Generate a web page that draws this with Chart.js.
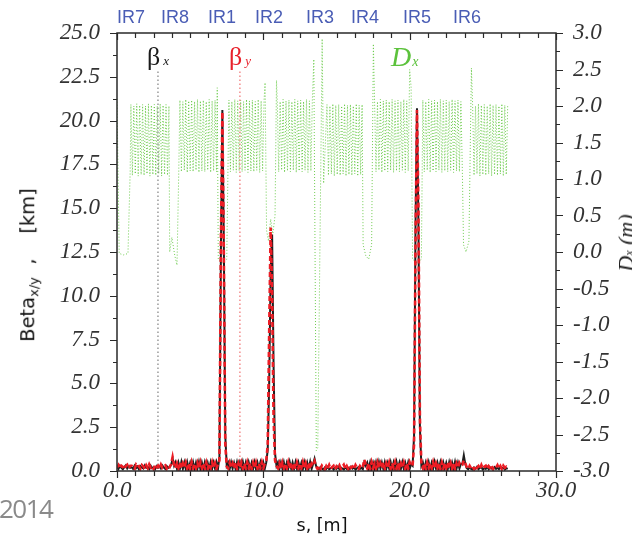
<!DOCTYPE html>
<html><head><meta charset="utf-8">
<script src="https://cdn.jsdelivr.net/npm/chart.js@4.4.1/dist/chart.umd.min.js"></script>
<style>
html,body{margin:0;padding:0;background:#fff;}
#wrap{position:relative;width:632px;height:535px;overflow:hidden;background:#fff;}
#c{position:absolute;left:0;top:0;}
.t{position:absolute;white-space:nowrap;line-height:1;}
.ir{font-family:"Liberation Sans",Arial,sans-serif;font-size:18px;color:#4a5db5;transform:translateX(-50%);top:8px;}
.greek{font-family:"Liberation Serif","Times New Roman",serif;font-size:26px;}
.sb{font-family:"Liberation Serif","Times New Roman",serif;font-style:italic;font-size:13px;margin-left:3px;}
</style></head><body>
<div id="wrap">
<canvas id="c" width="632" height="535"></canvas>
<div class="t greek" style="left:147px;top:44px;color:#1a1a1a;">β<span class="sb">x</span></div>
<div class="t greek" style="left:229px;top:44px;color:#e8202a;">β<span class="sb">y</span></div>
<div class="t" style="left:391px;top:43px;color:#5cc23c;font-family:'Liberation Serif',serif;font-style:italic;font-size:28px;">D<span style="font-size:14px;margin-left:1px;">x</span></div>
<div class="t" style="left:-1px;top:495px;color:#8a8a8a;font-family:'Open Sans',sans-serif;font-size:26px;letter-spacing:-1.5px;">2014</div>
<div class="t" style="left:322px;top:517px;transform:translateX(-50%);color:#111;font-family:'DejaVu Sans',sans-serif;font-size:17.5px;">s, [m]</div>
<div class="t" style="left:28px;top:265px;transform:translate(-50%,-50%) rotate(-90deg);color:#111;font-family:'DejaVu Sans',sans-serif;font-size:19.5px;">Beta<span style="font-size:13px;position:relative;top:4px;">x/y</span>&nbsp;&nbsp;,&nbsp;&nbsp;&nbsp;&nbsp;[km]</div>
<div class="t" style="left:626px;top:243px;transform:translate(-50%,-50%) rotate(-90deg);color:#222;font-family:'Liberation Serif',serif;font-style:italic;font-size:22px;">D<span style="font-size:12px;">x</span> (m)</div>
</div>
<script>
// ---- interaction regions (top labels) ----
const irNames = ['IR7','IR8','IR1','IR2','IR3','IR4','IR5','IR6'];
const irS     = [0.96, 3.96, 7.18, 10.39, 13.87, 16.95, 20.50, 23.92];

// ---- sample positions s [m] for the beta functions ----
const sBeta = [
0.0,0.1,0.2,0.3,0.4,0.5,0.6,0.7,0.8,0.9,
1.0,1.1,1.2,1.3,1.4,1.5,1.6,1.7,1.8,1.9,
2.0,2.1,2.2,2.3,2.4,2.5,2.6,2.7,2.8,2.9,
3.0,3.1,3.2,3.3,3.4,3.5,3.6,3.7,3.8,3.9,
4.0,4.1,4.2,4.3,4.4,4.5,4.6,4.7,4.8,4.9,
5.0,5.1,5.2,5.3,5.4,5.5,5.6,5.7,5.8,5.9,
6.0,6.1,6.2,6.3,6.4,6.5,6.6,6.7,6.8,6.9,
7.0,7.1,7.2,7.3,7.4,7.5,7.6,7.7,7.8,7.9,
8.0,8.1,8.2,8.3,8.4,8.5,8.6,8.7,8.8,8.9,
9.0,9.1,9.2,9.3,9.4,9.5,9.6,9.7,9.8,9.9,
10.0,10.1,10.2,10.3,10.4,10.5,10.6,10.7,10.8,10.9,
11.0,11.1,11.2,11.3,11.4,11.5,11.6,11.7,11.8,11.9,
12.0,12.1,12.2,12.3,12.4,12.5,12.6,12.7,12.8,12.9,
13.0,13.1,13.2,13.3,13.4,13.5,13.6,13.7,13.8,13.9,
14.0,14.1,14.2,14.3,14.4,14.5,14.6,14.7,14.8,14.9,
15.0,15.1,15.2,15.3,15.4,15.5,15.6,15.7,15.8,15.9,
16.0,16.1,16.2,16.3,16.4,16.5,16.6,16.7,16.8,16.9,
17.0,17.1,17.2,17.3,17.4,17.5,17.6,17.7,17.8,17.9,
18.0,18.1,18.2,18.3,18.4,18.5,18.6,18.7,18.8,18.9,
19.0,19.1,19.2,19.3,19.4,19.5,19.6,19.7,19.8,19.9,
20.0,20.1,20.2,20.3,20.4,20.5,20.6,20.7,20.8,20.9,
21.0,21.1,21.2,21.3,21.4,21.5,21.6,21.7,21.8,21.9,
22.0,22.1,22.2,22.3,22.4,22.5,22.6,22.7,22.8,22.9,
23.0,23.1,23.2,23.3,23.4,23.5,23.6,23.7,23.8,23.9,
24.0,24.1,24.2,24.3,24.4,24.5,24.6,24.7,24.8,24.9,
25.0,25.1,25.2,25.3,25.4,25.5,25.6,25.7,25.8,25.9,
26.0,26.1,26.2,26.3,26.4,26.5,26.6,26.7
];

// ---- beta_x [km], per section ----
const bxIR7  = [0.28,0.12,0.30,0.18,0.10,0.22,0.32,0.14,0.26,0.18];
const bxArc1 = [0.22,0.12,0.30,0.16,0.26,0.10,0.28,0.20,0.14,0.32,0.18,0.24,0.12,0.30,0.16,0.22,0.10,0.28,0.18,0.26,0.14,0.32,0.20,0.12,0.28,0.18,0.24];
const bxIR8  = [0.35,0.70,0.30];
const bxArc2 = [0.50,0.12,0.48,0.14,0.52,0.12,0.48,0.10,0.50,0.14,0.46,0.12,0.50,0.12,0.48,0.14,0.52,0.10,0.48,0.12,0.50,0.14,0.46,0.12,0.50,0.12,0.48,0.14,0.50,0.12];
const bxIR1  = [0.80,12.5,20.6,13.0,2.0,0.30];
const bxArc3 = [0.48,0.12,0.50,0.14,0.46,0.12,0.50,0.10,0.48,0.14,0.52,0.12,0.48,0.12,0.50,0.14,0.46,0.12,0.50,0.10,0.48,0.14,0.50,0.12,0.48,0.14];
const bxIR2  = [0.50,1.20,5.0,11.5,13.5,6.0,1.0,0.30];
const bxArc4 = [0.50,0.12,0.48,0.14,0.50,0.10,0.46,0.12,0.52,0.14,0.48,0.12,0.50,0.12,0.48,0.14,0.46,0.10,0.50,0.12,0.48,0.14,0.52,0.12,0.40];
const bxIR3  = [0.70,0.30];
const bxArc5 = [0.18,0.10,0.22,0.14,0.08,0.20,0.12,0.24,0.10,0.16,0.22,0.08,0.18,0.12,0.26,0.10,0.20,0.14,0.08,0.22,0.12,0.18,0.10,0.24,0.14,0.20,0.08,0.16,0.22,0.12,0.18,0.10];
const bxIR4  = [0.50,0.30];
const bxArc6 = [0.48,0.12,0.50,0.14,0.46,0.12,0.50,0.10,0.52,0.14,0.48,0.12,0.50,0.12,0.46,0.14,0.50,0.10,0.48,0.12,0.52,0.14,0.48,0.12,0.50,0.12,0.46,0.14,0.50,0.12,0.40];
const bxIR5  = [0.30,2.0,14.0,20.7,14.0,2.5,0.30];
const bxArc7 = [0.50,0.12,0.48,0.14,0.50,0.10,0.46,0.12,0.52,0.14,0.48,0.12,0.50,0.12,0.48,0.14,0.46,0.10,0.50,0.12,0.48,0.14,0.52,0.12,0.48,0.14,0.40];
const bxIR6  = [0.40,0.90,0.40];
const bxArc8 = [0.16,0.10,0.22,0.12,0.08,0.20,0.14,0.24,0.10,0.18,0.22,0.08,0.16,0.12,0.24,0.10,0.20,0.14,0.08,0.22,0.12,0.18,0.10,0.24,0.14,0.20,0.08,0.16,0.12];

// ---- beta_y [km], per section ----
const byIR7  = [0.20,0.34,0.14,0.30,0.24,0.10,0.28,0.36,0.16,0.30];
const byArc1 = [0.30,0.18,0.12,0.36,0.22,0.28,0.14,0.34,0.26,0.10,0.32,0.16,0.38,0.20,0.28,0.12,0.34,0.22,0.30,0.14,0.36,0.18,0.26,0.32,0.14,0.30,0.22];
const byIR8  = [0.40,0.80,0.35];
const byArc2 = [0.16,0.44,0.18,0.50,0.14,0.42,0.20,0.48,0.16,0.44,0.12,0.50,0.18,0.42,0.16,0.46,0.14,0.50,0.18,0.44,0.16,0.48,0.12,0.42,0.18,0.50,0.16,0.44,0.14,0.40];
const byIR1  = [0.60,13.0,20.5,12.5,1.5,0.25];
const byArc3 = [0.14,0.46,0.18,0.42,0.16,0.50,0.12,0.44,0.18,0.48,0.14,0.42,0.16,0.50,0.18,0.44,0.12,0.46,0.16,0.48,0.14,0.42,0.18,0.50,0.16,0.44];
const byIR2  = [0.60,1.50,8.0,13.9,10.0,3.0,0.60,0.30];
const byArc4 = [0.16,0.44,0.12,0.48,0.18,0.42,0.16,0.50,0.14,0.44,0.18,0.46,0.12,0.48,0.16,0.42,0.18,0.50,0.14,0.44,0.16,0.48,0.12,0.42,0.30];
const byIR3  = [0.55,0.25];
const byArc5 = [0.12,0.26,0.10,0.30,0.18,0.08,0.28,0.14,0.34,0.12,0.22,0.30,0.10,0.26,0.16,0.32,0.12,0.24,0.36,0.14,0.28,0.10,0.30,0.18,0.26,0.12,0.34,0.20,0.10,0.28,0.16,0.24];
const byIR4  = [0.65,0.35];
const byArc6 = [0.16,0.44,0.12,0.50,0.18,0.42,0.14,0.48,0.16,0.44,0.18,0.50,0.12,0.42,0.16,0.48,0.14,0.44,0.18,0.50,0.12,0.46,0.16,0.42,0.18,0.48,0.14,0.44,0.16,0.50,0.30];
const byIR5  = [0.30,1.5,13.0,20.6,15.0,3.0,0.40];
const byArc7 = [0.16,0.44,0.12,0.48,0.18,0.42,0.16,0.50,0.14,0.44,0.18,0.46,0.12,0.48,0.16,0.42,0.18,0.50,0.14,0.44,0.16,0.48,0.12,0.42,0.18,0.46,0.30];
const byIR6  = [0.35,0.60,0.45];
const byArc8 = [0.22,0.12,0.30,0.16,0.26,0.10,0.32,0.18,0.28,0.12,0.34,0.14,0.24,0.30,0.10,0.28,0.18,0.32,0.12,0.26,0.20,0.34,0.14,0.28,0.10,0.30,0.18,0.24,0.14];

// ---- dispersion D_x [m]: positions and values per section ----
const dsIR7  = [0.0,0.15,0.45,0.75,0.9];
const dvIR7  = [2.10,-0.02,-0.04,-0.02,1.10];
const dsArc1 = [0.95,1.05,1.15,1.25,1.35,1.45,1.55,1.65,1.75,1.85,1.95,2.05,2.15,2.25,2.35,2.45,2.55,2.65,2.75,2.85,2.95,3.05,3.15,3.25,3.35,3.45,3.55];
const dvArc1 = [2.02,1.05,2.00,1.07,2.03,1.04,2.01,1.06,2.02,1.05,2.00,1.07,2.03,1.04,2.01,1.06,2.02,1.05,2.00,1.07,2.03,1.04,2.01,1.06,2.02,1.05,2.00];
const dsIR8  = [3.6,3.75,3.95,4.1,4.22];
const dvIR8  = [0.00,0.20,-0.05,-0.18,1.10];
const dsArc2 = [4.3,4.4,4.5,4.6,4.7,4.8,4.9,5.0,5.1,5.2,5.3,5.4,5.5,5.6,5.7,5.8,5.9,6.0,6.1,6.2,6.3,6.4,6.5,6.6,6.7,6.8];
const dvArc2 = [2.08,1.10,2.06,1.12,2.09,1.09,2.07,1.11,2.08,1.10,2.06,1.12,2.09,1.09,2.07,1.11,2.08,1.10,2.06,1.12,2.09,1.09,2.07,1.11,2.08,1.10];
const dsIR1  = [6.85,6.92,7.2,7.5,7.58];
const dvIR1  = [2.25,-0.10,-0.15,-0.10,1.10];
const dsArc3 = [7.65,7.75,7.85,7.95,8.05,8.15,8.25,8.35,8.45,8.55,8.65,8.75,8.85,8.95,9.05,9.15,9.25,9.35,9.45,9.55,9.65,9.75,9.85,9.95,10.05];
const dvArc3 = [2.08,1.10,2.06,1.12,2.09,1.09,2.07,1.11,2.08,1.10,2.06,1.12,2.09,1.09,2.07,1.11,2.08,1.10,2.06,1.12,2.09,1.09,2.07,1.11,2.08];
const dsIR2  = [10.12,10.22,10.35,10.5,10.65,10.8,10.9];
const dvIR2  = [2.32,0.30,0.15,0.45,0.25,0.50,2.35];
const dsArc4 = [10.95,11.05,11.15,11.25,11.35,11.45,11.55,11.65,11.75,11.85,11.95,12.05,12.15,12.25,12.35,12.45,12.55,12.65,12.75,12.85,12.95,13.05,13.15,13.25,13.35];
const dvArc4 = [2.08,1.10,2.06,1.12,2.09,1.09,2.07,1.11,2.08,1.10,2.06,1.12,2.09,1.09,2.07,1.11,2.08,1.10,2.06,1.12,2.09,1.09,2.07,1.11,2.08];
const dsIR3  = [13.45,13.62,13.72,14.02,14.12];
const dvIR3  = [2.64,-2.72,-2.68,2.92,0.94];
const dsArc5 = [14.35,14.45,14.55,14.65,14.75,14.85,14.95,15.05,15.15,15.25,15.35,15.45,15.55,15.65,15.75,15.85,15.95,16.05,16.15,16.25,16.35,16.45,16.55,16.65,16.75];
const dvArc5 = [2.02,1.05,2.00,1.07,2.03,1.04,2.01,1.06,2.02,1.05,2.00,1.07,2.03,1.04,2.01,1.06,2.02,1.05,2.00,1.07,2.03,1.04,2.01,1.06,2.02];
const dsIR4  = [16.82,17.0,17.2,17.4,17.52];
const dvIR4  = [0.10,-0.05,-0.10,0.10,2.85];
const dsArc6 = [17.6,17.7,17.8,17.9,18.0,18.1,18.2,18.3,18.4,18.5,18.6,18.7,18.8,18.9,19.0,19.1,19.2,19.3,19.4,19.5,19.6,19.7,19.8,19.9];
const dvArc6 = [2.08,1.10,2.06,1.12,2.09,1.09,2.07,1.11,2.08,1.10,2.06,1.12,2.09,1.09,2.07,1.11,2.08,1.10,2.06,1.12,2.09,1.09,2.07,1.11];
const dsIR5  = [20.0,20.1,20.2,20.5,20.8];
const dvIR5  = [2.50,2.25,-0.10,-0.15,-0.10];
const dsArc7 = [20.9,21.0,21.1,21.2,21.3,21.4,21.5,21.6,21.7,21.8,21.9,22.0,22.1,22.2,22.3,22.4,22.5,22.6,22.7,22.8,22.9,23.0,23.1,23.2,23.3,23.4,23.5,23.6];
const dvArc7 = [2.08,1.10,2.06,1.12,2.09,1.09,2.07,1.11,2.08,1.10,2.06,1.12,2.09,1.09,2.07,1.11,2.08,1.10,2.06,1.12,2.09,1.09,2.07,1.11,2.08,1.10,2.06,1.12];
const dsIR6  = [23.68,23.85,24.05,24.22];
const dvIR6  = [0.10,0.00,0.15,2.52];
const dsArc8 = [24.3,24.4,24.5,24.6,24.7,24.8,24.9,25.0,25.1,25.2,25.3,25.4,25.5,25.6,25.7,25.8,25.9,26.0,26.1,26.2,26.3,26.4,26.5,26.6,26.7];
const dvArc8 = [2.02,1.05,2.00,1.07,2.03,1.04,2.01,1.06,2.02,1.05,2.00,1.07,2.03,1.04,2.01,1.06,2.02,1.05,2.00,1.07,2.03,1.04,2.01,1.06,2.02];

// ---- vertical dotted marker lines (beta scale) ----
const markerS      = [2.8, 8.4];
const markerTop    = [22.8, 22.8];
const markerBottom = [0.25, 0.30];

// ---- build tables ----
const betaX = [].concat(bxIR7,bxArc1,bxIR8,bxArc2,bxIR1,bxArc3,bxIR2,bxArc4,bxIR3,bxArc5,bxIR4,bxArc6,bxIR5,bxArc7,bxIR6,bxArc8);
const betaY = [].concat(byIR7,byArc1,byIR8,byArc2,byIR1,byArc3,byIR2,byArc4,byIR3,byArc5,byIR4,byArc6,byIR5,byArc7,byIR6,byArc8);
const dS = [].concat(dsIR7,dsArc1,dsIR8,dsArc2,dsIR1,dsArc3,dsIR2,dsArc4,dsIR3,dsArc5,dsIR4,dsArc6,dsIR5,dsArc7,dsIR6,dsArc8);
const dV = [].concat(dvIR7,dvArc1,dvIR8,dvArc2,dvIR1,dvArc3,dvIR2,dvArc4,dvIR3,dvArc5,dvIR4,dvArc6,dvIR5,dvArc7,dvIR6,dvArc8);

const ptsBx = sBeta.map((s,i)=>({x:s,y:betaX[i]}));
const ptsBy = sBeta.map((s,i)=>({x:s,y:betaY[i]}));
const ptsD  = dS.map((s,i)=>({x:s,y:dV[i]}));
const markerPts = markerS.map((s,i)=>[{x:s,y:markerTop[i]},{x:s,y:markerBottom[i]}]);

const isMul = (v,m) => Math.abs(v/m - Math.round(v/m)) < 1e-6;

const frameTicks = {
  id:'frameTicks',
  afterDraw(chart){
    const {ctx, chartArea:a, scales} = chart;
    ctx.save();
    ctx.strokeStyle = '#2a2a2a';
    ctx.lineWidth = 1.5;
    ctx.strokeRect(a.left, a.top, a.right-a.left, a.bottom-a.top);
    ctx.lineWidth = 1.2;
    ctx.beginPath();
    scales.y.ticks.forEach(t=>{
      const p = Math.round(scales.y.getPixelForValue(t.value))+0.5;
      const L = isMul(t.value,2.5)?7:4;
      ctx.moveTo(a.left,p); ctx.lineTo(a.left-L,p);
    });
    scales.y2.ticks.forEach(t=>{
      const p = Math.round(scales.y2.getPixelForValue(t.value))+0.5;
      const L = isMul(t.value,0.5)?7:4;
      ctx.moveTo(a.right,p); ctx.lineTo(a.right+L,p);
    });
    scales.x.ticks.forEach(t=>{
      const p = Math.round(scales.x.getPixelForValue(t.value))+0.5;
      const L = isMul(t.value,10)?7:5;
      ctx.moveTo(p,a.bottom); ctx.lineTo(p,a.bottom+L);
      ctx.moveTo(p,a.top); ctx.lineTo(p,a.top+L);
    });
    ctx.stroke();
    ctx.restore();
  }
};

const tickFont = {family:"'Liberation Serif','Times New Roman',serif", style:'italic', size:23};

const chart = new Chart(document.getElementById('c'), {
  type:'line',
  data:{datasets:[
    {label:'βy', data:ptsBy, yAxisID:'y', borderColor:'#ec1c24', borderWidth:2.6, borderDash:[5,3], pointRadius:0, tension:0},
    {label:'βx', data:ptsBx, yAxisID:'y', borderColor:'#1e1e1e', borderWidth:2, pointRadius:0, tension:0},
    {label:'mark x', data:markerPts[0], yAxisID:'y', borderColor:'#808080', borderWidth:1.2, borderDash:[1.5,2.5], pointRadius:0},
    {label:'mark y', data:markerPts[1], yAxisID:'y', borderColor:'#f07070', borderWidth:1.2, borderDash:[1.5,2.5], pointRadius:0},
    {label:'Dx', data:ptsD, yAxisID:'y2', borderColor:'rgba(96,198,62,0.9)', borderWidth:1, borderDash:[1,2], pointRadius:0, tension:0}
  ]},
  options:{
    responsive:false, animation:false, devicePixelRatio:1, events:[],
    layout:{padding:{top:33,left:0,right:0,bottom:0}},
    plugins:{legend:{display:false}, tooltip:{enabled:false}},
    scales:{
      x:{type:'linear', position:'bottom', min:0, max:30,
         afterFit(s){s.height=64;},
         grid:{display:false, drawTicks:false}, border:{display:false},
         ticks:{stepSize:1.25, autoSkip:false, maxRotation:0, minRotation:0, padding:6, color:'#333', font:tickFont,
                callback:v=>isMul(v,10)?Number(v).toFixed(1):''}},
      y:{type:'linear', position:'left', min:0, max:25,
         afterFit(s){s.width=117;},
         grid:{display:false, drawTicks:false}, border:{display:false},
         ticks:{stepSize:1.25, autoSkip:false, padding:17, color:'#333', font:tickFont,
                callback:v=>isMul(v,2.5)?Number(v).toFixed(1):''}},
      y2:{type:'linear', position:'right', min:-3, max:3,
         afterFit(s){s.width=76;},
         grid:{display:false, drawTicks:false}, border:{display:false},
         ticks:{stepSize:0.25, autoSkip:false, padding:17, color:'#333', font:tickFont,
                callback:v=>isMul(v,0.5)?Number(v).toFixed(1):''}}
    }
  },
  plugins:[frameTicks]
});

// IR labels placed through the x scale
const wrap = document.getElementById('wrap');
irNames.forEach((n,i)=>{
  const d = document.createElement('div');
  d.className = 't ir';
  d.textContent = n;
  d.style.left = chart.scales.x.getPixelForValue(irS[i]) + 'px';
  wrap.appendChild(d);
});
</script>
</body></html>
